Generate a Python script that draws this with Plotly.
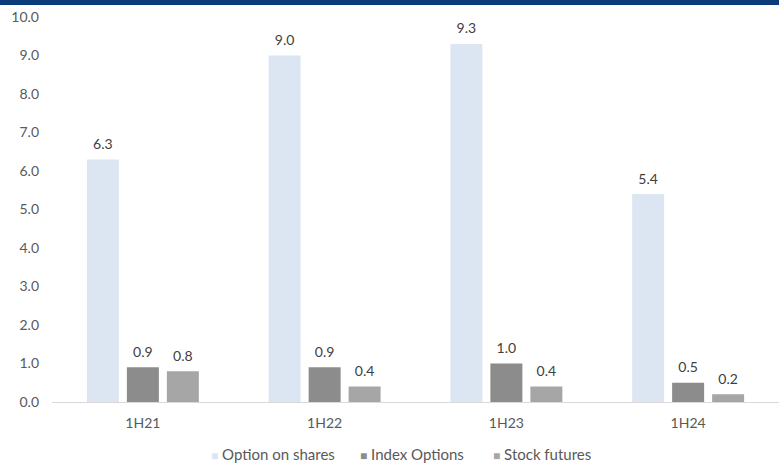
import plotly.graph_objects as go

categories = ["1H21", "1H22", "1H23", "1H24"]
option_on_shares = [6.3, 9.0, 9.3, 5.4]
index_options = [0.9, 0.9, 1.0, 0.5]
stock_futures = [0.8, 0.4, 0.4, 0.2]

series = [
    ("Option on shares", option_on_shares, "#dce6f2"),
    ("Index Options", index_options, "#8c8c8c"),
    ("Stock futures", stock_futures, "#a6a6a6"),
]

font_family = "Lato, 'Open Sans', sans-serif"

fig = go.Figure()
for name, vals, color in series:
    fig.add_trace(go.Bar(
        name=name, x=categories, y=vals,
        marker=dict(color=color, line=dict(width=0)),
        text=[f"<span style='font-size:14px'>{v:.1f}</span><br> " for v in vals],
        textposition="outside",
        textfont=dict(size=5, color="#404040", family=font_family),
        cliponaxis=False, showlegend=False,
    ))

# legend drawn as text annotations
legend_x = [209, 358, 491]
annotations = []
for (name, vals, color), lx in zip(series, legend_x):
    annotations.append(dict(
        xref="paper", yref="paper", x=(lx - 52) / 727, y=-52 / 385,
        xanchor="left", yanchor="middle", showarrow=False,
        text=f"<span style='color:{color};font-size:12px'>■</span> {name}",
        font=dict(size=15, color="#595959", family=font_family),
    ))

fig.update_layout(
    width=779, height=465,
    margin=dict(l=52, r=0, t=17, b=63),
    paper_bgcolor="white", plot_bgcolor="white",
    barmode="group", bargap=0.34, bargroupgap=0.2,
    font=dict(family=font_family, size=13, color="#595959"),
    showlegend=False,
    annotations=annotations,
    xaxis=dict(showgrid=False, showline=True, linecolor="#d9d9d9", linewidth=1,
               ticks="", ticklabelstandoff=8, tickfont=dict(size=14, color="#595959")),
    yaxis=dict(range=[0, 10], dtick=1, tickformat=".1f", showgrid=False,
               zeroline=False, showline=False, ticks="", ticklabelstandoff=12,
               tickfont=dict(size=14, color="#595959")),
    shapes=[dict(type="rect", xref="paper", yref="paper", x0=-0.1, x1=1.1,
                 y0=1.0 + 12/385, y1=1.0 + 20/385, fillcolor="#0b3b78", line=dict(width=0))],
)

fig.write_html("out.html")
